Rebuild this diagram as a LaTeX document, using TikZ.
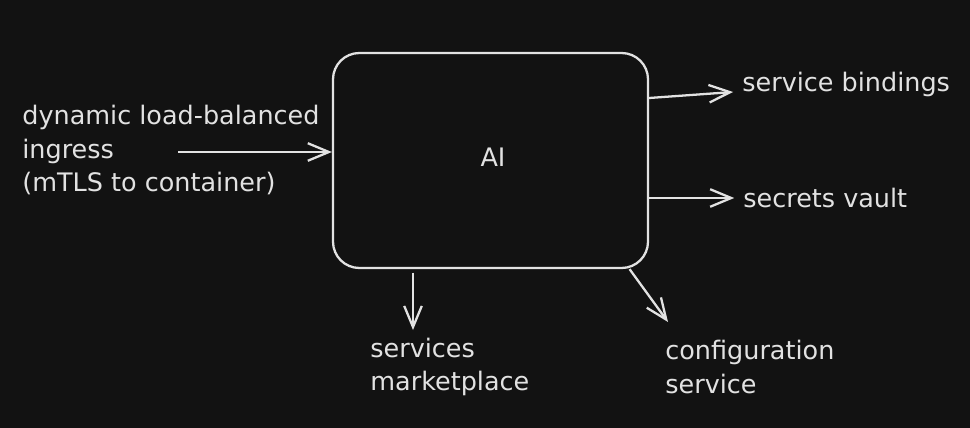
\documentclass[tikz,border=0pt]{standalone}
\usepackage{fontspec}
\setmainfont{DejaVu Sans}
\usepackage{xcolor}
\usetikzlibrary{arrows.meta}
\definecolor{bg}{HTML}{121212}
\definecolor{ink}{HTML}{E2E2E2}
\tikzstyle{block}=[draw=ink,line width=1.3pt,rounded corners=15pt,minimum width=6.3cm,minimum height=4.3cm]
\tikzstyle{txt}=[text=ink,anchor=west,align=left,inner sep=0pt,font=\fontsize{14.5}{19.3}\selectfont]
\tikzstyle{arr}=[draw=ink,line width=1.3pt,-{Straight Barb[length=12pt,width=10pt]}]

\begin{document}
\begin{tikzpicture}[x=0.2mm,y=-0.2mm]
        \useasboundingbox (0,0) rectangle (970,428);
        \fill [bg] (0,0) rectangle (970,428);

        \node at (490.5,160.5) [block] (ai) {};
        \node at (493,157) [txt,anchor=center] (ailbl) {AI};

        \node at (22,150) [txt] (ingress) {dynamic load-balanced\\ingress\\(mTLS to container)};
        \node at (742,84) [txt] (bind) {service bindings};
        \node at (743,198) [txt] (vault) {secrets vault};
        \node at (370,367) [txt] (mkt) {services\\marketplace};
        \node at (665,367) [txt] (cfg) {configuration\\service};

        \coordinate (inbeg) at (178,152);
        \coordinate (bindend) at (733,92);
        \coordinate (mktend) at (413,330);
        \coordinate (cfgend) at (668,322);

        \draw [arr] (inbeg) -- (ai.west |- inbeg);
        \draw [arr] (ai.east |- 0,98) -- (bindend);
        \draw [arr] (ai.east |- vault.west) -- ([xshift=-5pt]vault.west);
        \draw [arr] ([yshift=-2pt]ai.south -| mktend) -- (mktend);
        \draw [arr] (ai.-38) -- (cfgend);
      \end{tikzpicture}
\end{document}
